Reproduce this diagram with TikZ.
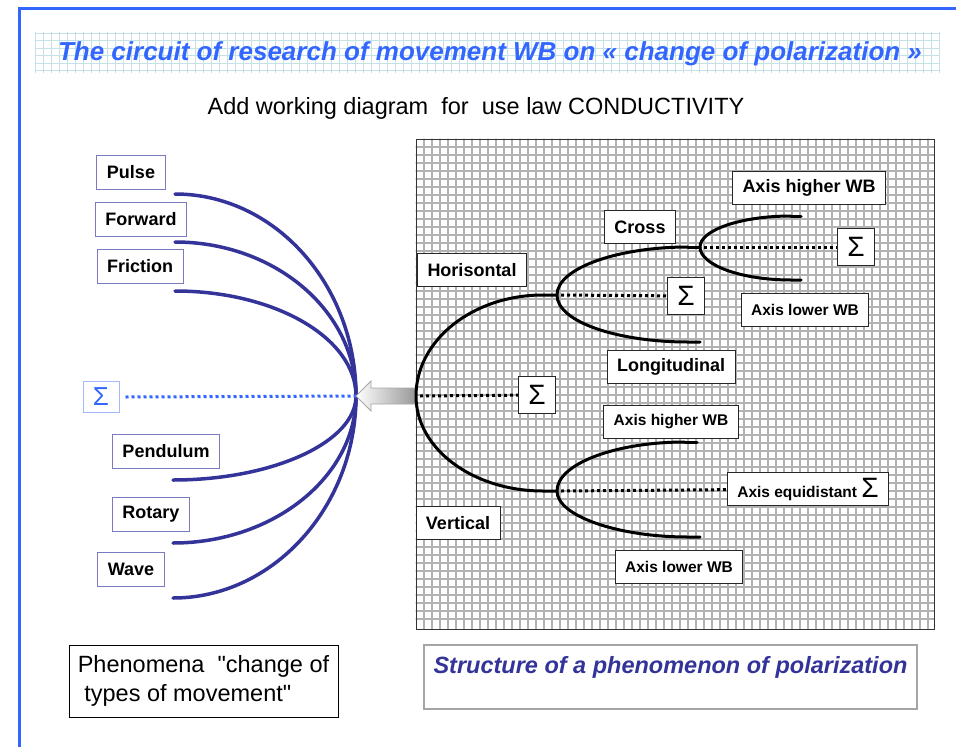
\documentclass[tikz,border=0pt]{standalone}
\usepackage{fontspec}
\setmainfont{Liberation Sans}[Ligatures=TeXOff]
\usepackage{tikz}

\begin{document}
\begin{tikzpicture}
	[x=1pt,y=-1pt,line cap=round,
	%Styles
	frame line/.style={draw=titleblue,line width=3pt},
	title grid/.style={draw=gridcyan,line width=0.9pt},
	panel grid/.style={draw=gray!60,line width=1.1pt},
	type box/.style={draw=boxblue,fill=white,line width=1pt,inner xsep=10pt,minimum height=34pt,font=\fontsize{18}{20}\selectfont\bfseries},
	part box/.style={draw=black!85,fill=white,line width=0.8pt,inner xsep=10pt,minimum height=33pt,font=\fontsize{18}{20}\selectfont\bfseries},
	axis box/.style={part box,font=\fontsize{15.5}{18}\selectfont\bfseries},
	sum box/.style={part box,minimum width=37pt,minimum height=37pt,inner sep=0pt,font=\fontsize{28}{28}\selectfont},
	fan line/.style={draw=fanblue,line width=3.5pt},
	fork line/.style={draw=black,line width=3pt},
	sum dots/.style={line width=3pt,line cap=butt,dash pattern=on 3pt off 3pt},
	note box/.style={draw=black,line width=1pt,fill=white,font=\fontsize{23.5}{29}\selectfont}
	]
	
	%Colors
	\definecolor{titleblue}{HTML}{3366FF}
	\definecolor{fanblue}{HTML}{333399}
	\definecolor{boxblue}{HTML}{7A7AC0}
	\definecolor{gridcyan}{HTML}{C5E3E6}
	\colorlet{sumframe}{titleblue!45}
	
	\useasboundingbox (0,0) rectangle (956,747);
	
	%Frame and headings
	\draw[frame line] (956,8) -- (19,8) -- (19,747);
	\foreach \x in {35,43,...,940}
		\draw[title grid] (\x,32) -- (\x,73);
	\foreach \y in {33,40.5,...,73}
		\draw[title grid] (35,\y) -- (940,\y);
	\node[text=titleblue,font=\fontsize{26}{28}\selectfont\bfseries\itshape] (title) at (490,54)
		{The circuit of research of movement WB on « change of polarization »};
	\node[font=\fontsize{23.5}{26}\selectfont] (subtitle) at (476,108)
		{Add working diagram\ \ for\ \ use law CONDUCTIVITY};
	
	%Types of movement
	\node[type box] (pulse) at (131,172) {Pulse};
	\node[type box] (forward) at (141,219) {Forward};
	\node[type box] (friction) at (140,266) {Friction};
	\node[type box,draw=sumframe,text=titleblue,font=\fontsize{26}{26}\selectfont,minimum width=36pt,minimum height=31pt,inner sep=0pt] (fan-sum) at (101,397) {Σ};
	\node[type box] (pendulum) at (166,451) {Pendulum};
	\node[type box] (rotary) at (151,514) {Rotary};
	\node[type box] (wave) at (131,569) {Wave};
	
	\coordinate (hub) at (356,396);
	\coordinate (pulse-end) at (175,194);
	\coordinate (forward-end) at (175,242);
	\coordinate (friction-end) at (175,291);
	\coordinate (pendulum-end) at (173,480);
	\coordinate (rotary-end) at (173,543);
	\coordinate (wave-end) at (173,598);
	
	\draw[fan line] (pulse-end) .. controls +(100,0) and +(0,-111) .. (hub);
	\draw[fan line] (forward-end) .. controls +(100,0) and +(0,-85) .. (hub);
	\draw[fan line] (friction-end) .. controls +(100,0) and +(0,-58) .. (hub);
	\draw[fan line] (pendulum-end) .. controls +(100,0) and +(0,46) .. (hub);
	\draw[fan line] (rotary-end) .. controls +(100,0) and +(0,81) .. (hub);
	\draw[fan line] (wave-end) .. controls +(100,0) and +(0,111) .. (hub);
	\draw[sum dots,titleblue] (fan-sum.east) ++(6,0) -- (hub);
	
	%Polarization panel
	\fill[white] (416,139) rectangle (934,629);
	\foreach \x in {424,432,...,930}
		\draw[panel grid] (\x,139) -- (\x,629);
	\foreach \y in {147,155,...,625}
		\draw[panel grid] (416,\y) -- (934,\y);
	\draw[black!80,line width=1pt] (416,139) rectangle (934,629);
	
	\coordinate (a-fork) at (416,396);
	\coordinate (b-fork) at (557,295);
	\coordinate (c-fork) at (700,247);
	\coordinate (d-fork) at (557,491);
	\coordinate (b-low) at (700,342);
	\coordinate (c-top) at (801,216);
	\coordinate (c-bot) at (801,280);
	\coordinate (d-top) at (697,442);
	\coordinate (d-bot) at (700,537);
	
	\shade[left color=white,right color=gray!80,draw=gray!70,line width=0.8pt,line join=miter]
		(hub) -- ++(15,-15) -- ++(0,7) -- ++(44,0) -- ++(0,16) -- ++(-44,0) -- ++(0,7) -- cycle;
	
	\node[part box] (c-high) at (809,188) {Axis higher WB};
	\node[part box] (cross) at (640,227) {Cross};
	\node[sum box] (c-sum) at (856,247) {Σ};
	\node[part box] (horis) at (472,270) {Horisontal};
	\node[sum box] (b-sum) at (686,296) {Σ};
	\node[axis box] (c-low) at (805,310) {Axis lower WB};
	\node[part box] (longi) at (671,367) {Longitudinal};
	\node[sum box] (a-sum) at (537,395) {Σ};
	\node[axis box] (d-high) at (671,422) {Axis higher WB};
	\node[axis box] (d-sum) at (808,489) {Axis equidistant {\fontsize{28}{28}\selectfont\mdseries Σ}};
	\node[part box] (vert) at (458,523) {Vertical};
	\node[axis box] (d-low) at (679,567) {Axis lower WB};
	
	\draw[fork line] (b-fork) -- ++(-14,0) .. controls +(-70,0) and +(0,-56) .. (a-fork)
		.. controls +(0,53) and +(-70,0) .. ([xshift=-14pt]d-fork) -- (d-fork);
	\draw[fork line] ([xshift=-12pt]c-fork) .. controls +(-70,0) and +(0,-27) .. (b-fork)
		.. controls +(0,27) and +(-70,0) .. ([xshift=-12pt]b-low) -- (b-low);
	\draw[fork line] ([xshift=-12pt]c-fork) -- (c-fork);
	\draw[fork line] ([xshift=-10pt]c-top) .. controls +(-50,0) and +(0,-17) .. (c-fork)
		.. controls +(0,18) and +(-50,0) .. ([xshift=-10pt]c-bot) -- (c-bot);
	\draw[fork line] ([xshift=-10pt]c-top) -- (c-top);
	\draw[fork line] ([xshift=-12pt]d-top) .. controls +(-70,0) and +(0,-27) .. (d-fork)
		.. controls +(0,25) and +(-70,0) .. ([xshift=-12pt]d-bot) -- (d-bot);
	\draw[fork line] ([xshift=-12pt]d-top) -- (d-top);
	
	\draw[sum dots] (a-fork) ++(4,0) -- (a-sum);
	\draw[sum dots] (b-fork) ++(4,0) -- (b-sum);
	\draw[sum dots] (c-fork) ++(4,0) -- (c-sum);
	\draw[sum dots] (d-fork) ++(4,0) -- (d-sum);
	
	%Captions
	\node[note box,minimum width=269pt,minimum height=72pt,align=left] (phenomena) at (203.5,681)
		{Phenomena\ \ "change of\\\ types of movement"};
	\node[note box,draw=gray!70,line width=1.2pt,minimum width=493pt,inner ysep=10pt,text height=18pt,text depth=26pt,
		text=fanblue,font=\fontsize{23.5}{26}\selectfont\bfseries\itshape] (structure) at (670.5,677)
		{Structure of a phenomenon of polarization};
\end{tikzpicture}
\end{document}
